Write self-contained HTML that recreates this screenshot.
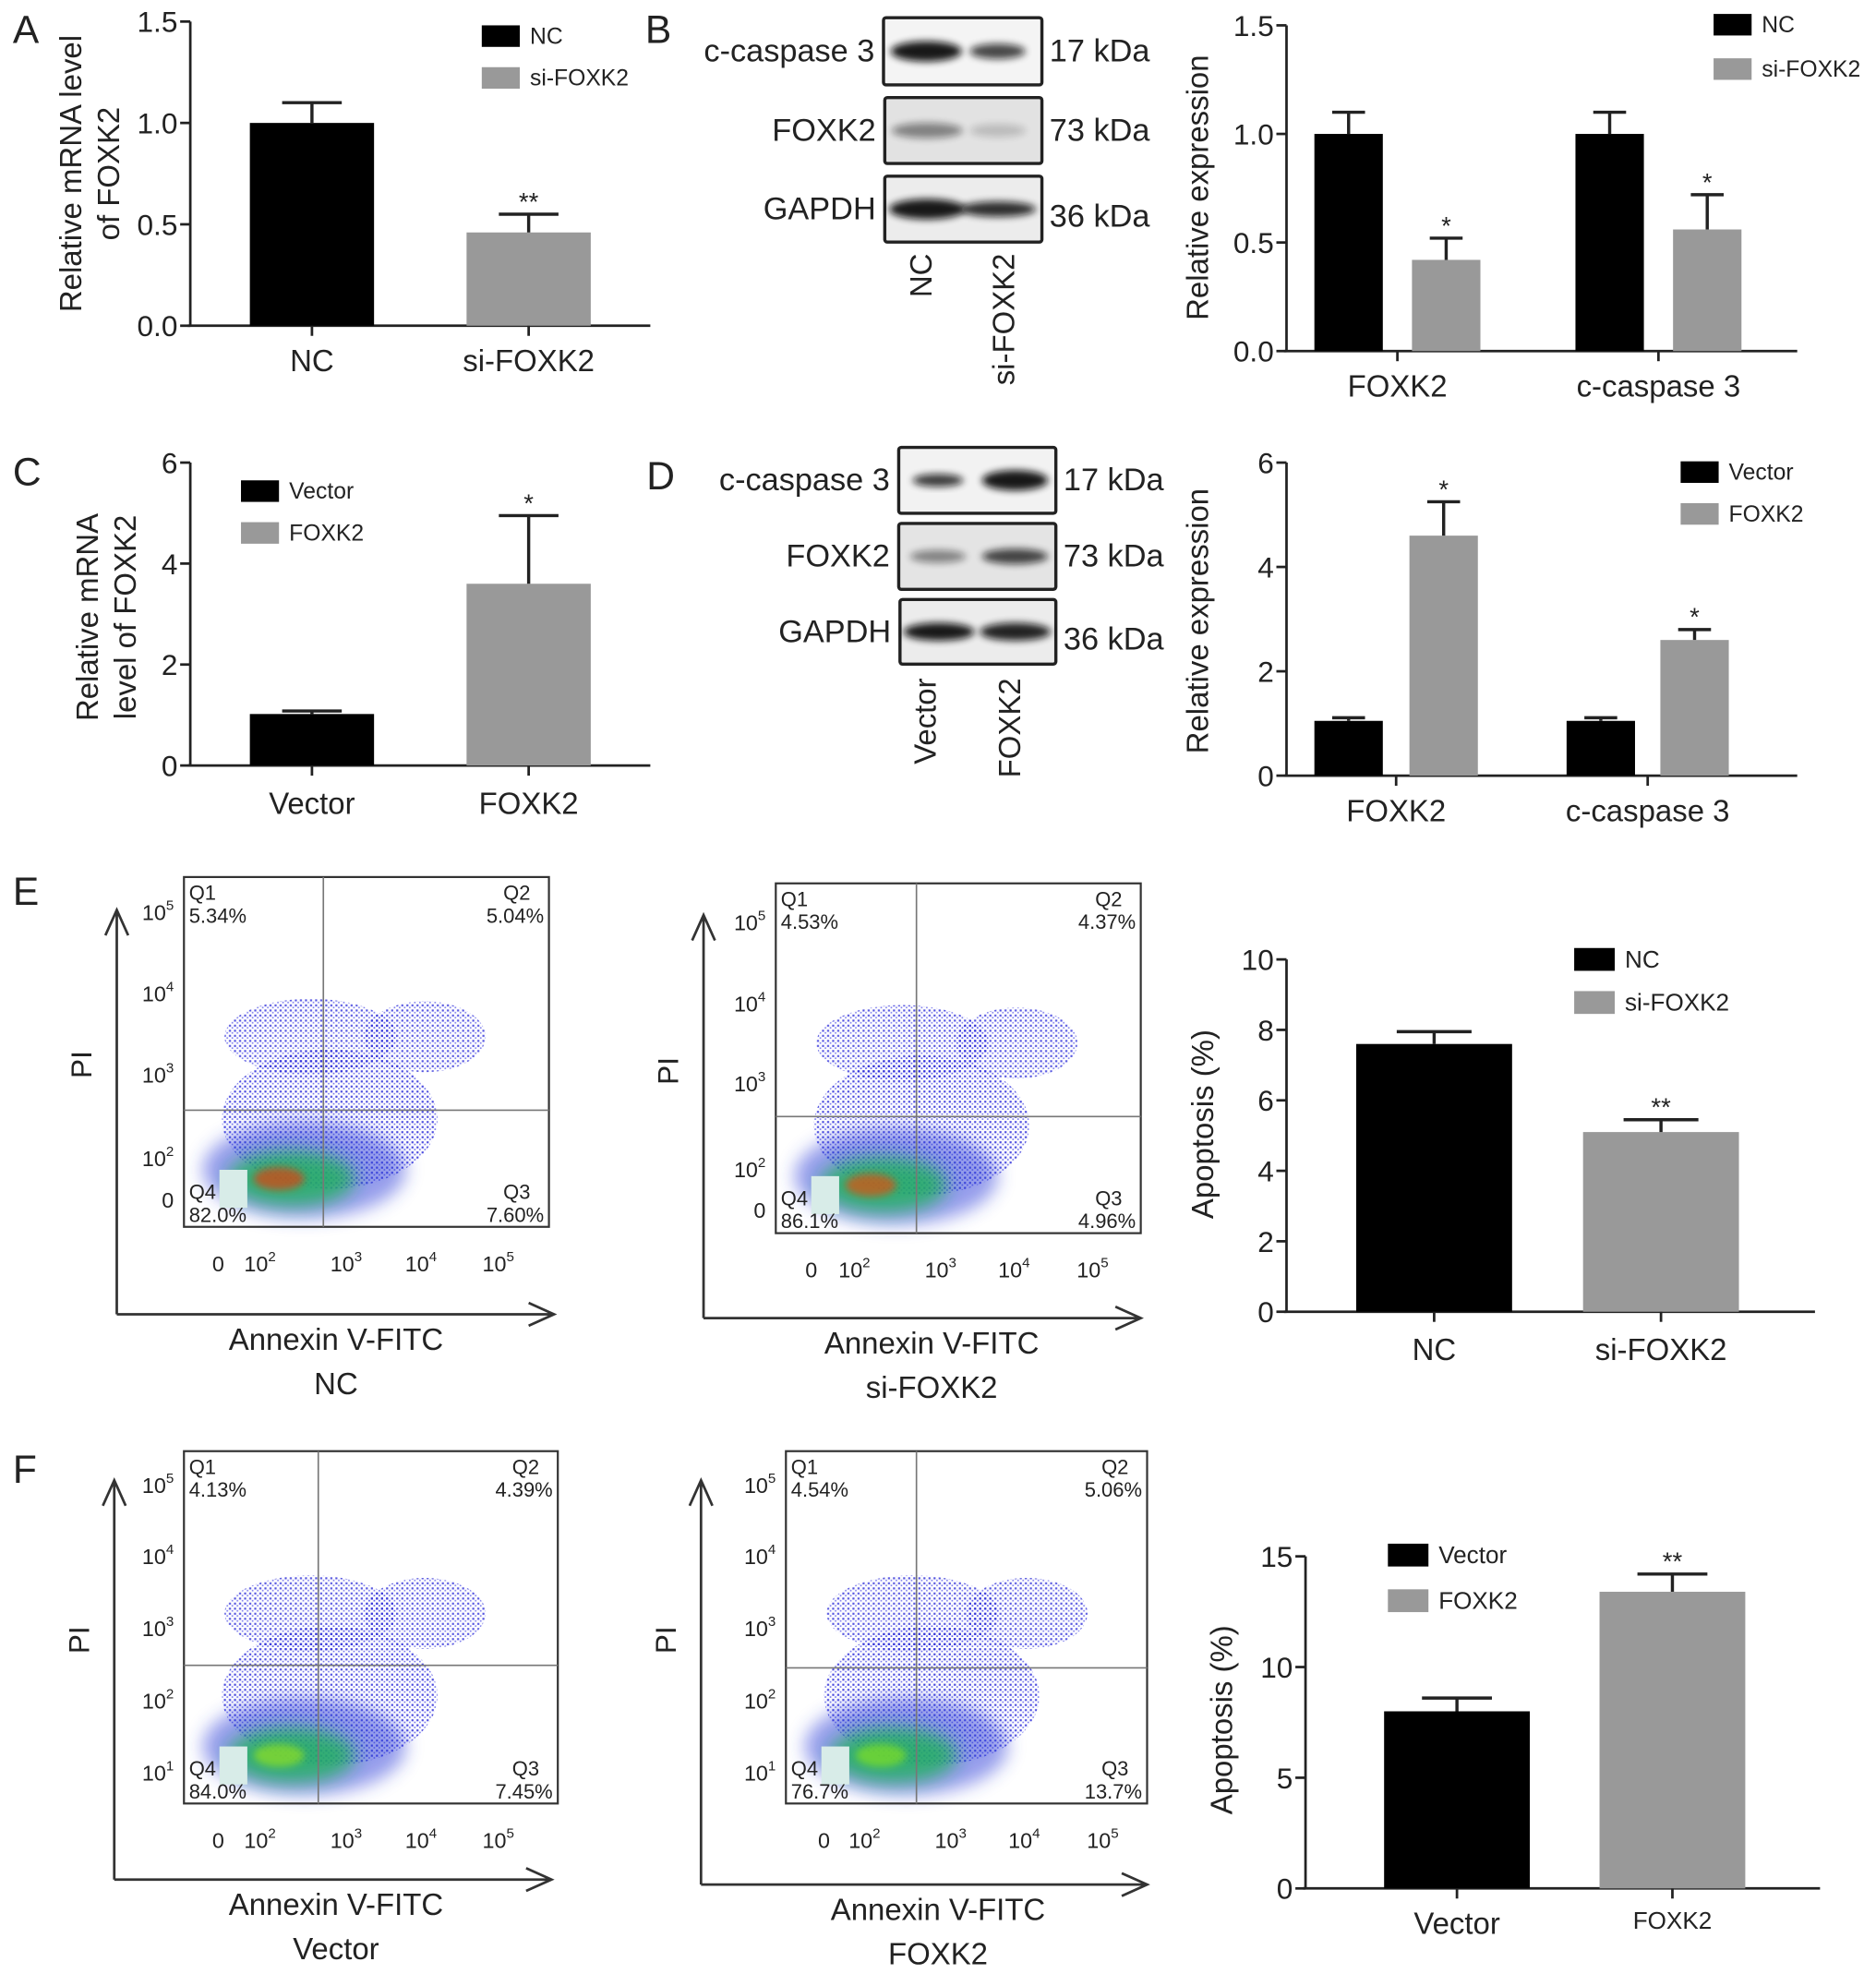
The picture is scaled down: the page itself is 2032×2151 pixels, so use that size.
<!DOCTYPE html>
<html><head><meta charset="utf-8">
<style>
html,body{margin:0;padding:0;background:#fff;}
svg{display:block;}
svg text{font-family:"Liberation Sans",Arial,sans-serif;}
</style></head>
<body>
<svg id="fig" width="2032" height="2151" viewBox="0 0 1480 1567" xmlns="http://www.w3.org/2000/svg">
<defs>
<filter id="bl2" x="-50%" y="-50%" width="200%" height="200%"><feGaussianBlur stdDeviation="3"/></filter>
<filter id="bl6" x="-50%" y="-50%" width="200%" height="200%"><feGaussianBlur stdDeviation="7"/></filter>
<filter id="bl12" x="-50%" y="-50%" width="200%" height="200%"><feGaussianBlur stdDeviation="12"/></filter>
<pattern id="dots" width="4" height="4" patternUnits="userSpaceOnUse"><rect x="0.5" y="0.5" width="1.6" height="1.6" fill="#2a2ad8"/><rect x="2.6" y="2.4" width="1.2" height="1.2" fill="#5a5ae8"/></pattern>
</defs>
<g id="root"></g>
</svg>
<script>
// ---- Bar chart data ----
const aCats = ["NC", "si-FOXK2"];
const aVals = [1.0, 0.46];
const aErrs = [0.10, 0.09];
const aTicks = [0.0, 0.5, 1.0, 1.5];

const bCats = ["FOXK2", "c-caspase 3"];
const bNC = [1.0, 1.0];
const bSi = [0.42, 0.56];
const bNCErr = [0.10, 0.10];
const bSiErr = [0.10, 0.16];
const bTicks = [0.0, 0.5, 1.0, 1.5];

const cCats = ["Vector", "FOXK2"];
const cVals = [1.02, 3.6];
const cErrs = [0.06, 1.35];
const cTicks = [0, 2, 4, 6];

const dCats = ["FOXK2", "c-caspase 3"];
const dVec = [1.05, 1.05];
const dFox = [4.6, 2.6];
const dVecErr = [0.06, 0.06];
const dFoxErr = [0.65, 0.2];
const dTicks = [0, 2, 4, 6];

const eCats = ["NC", "si-FOXK2"];
const eVals = [7.6, 5.1];
const eErrs = [0.35, 0.35];
const eTicks = [0, 2, 4, 6, 8, 10];

const fCats = ["Vector", "FOXK2"];
const fVals = [8.0, 13.4];
const fErrs = [0.6, 0.8];
const fTicks = [0, 5, 10, 15];

const NS = "http://www.w3.org/2000/svg";
const root = document.getElementById("root");
function mk(tag, attrs, parent, text) {
  const e = document.createElementNS(NS, tag);
  for (const k in attrs) e.setAttribute(k, attrs[k]);
  if (text !== undefined) e.textContent = text;
  (parent || root).appendChild(e);
  return e;
}
function txt(x, y, s, size, anchor, parent, extra) {
  const a = {x: x, y: y, "font-size": size, "text-anchor": anchor || "start", fill: "#222"};
  if (extra) for (const k in extra) a[k] = extra[k];
  return mk("text", a, parent, s);
}
function makeY(max, y0, y1) { return v => y0 - (v / max) * (y0 - y1); }

function axes(g, ax, y0, y1, xEnd, ticks, yf, fs, fmt) {
  const yl = mk("line", {x1: ax, y1: y1, x2: ax, y2: y0, stroke: "#222", "stroke-width": 2}, g);
  
  
  const xl = mk("line", {x1: ax - 2, y1: y0, x2: xEnd, y2: y0, stroke: "#222", "stroke-width": 2}, g);
  
  
  ticks.forEach(t => {
    const y = yf(t);
    mk("line", {x1: ax - 8, y1: y, x2: ax, y2: y, stroke: "#222", "stroke-width": 2}, g);
    const tl = txt(ax - 10, y + fs * 0.36, fmt(t), fs, "end", g);
    
    
  });
}
function bar(g, x, w, v, err, yf, y0, color, star, name) {
  const top = yf(v);
  const r = mk("rect", {x: x, y: top, width: w, height: y0 - top, fill: color}, g);
  
  
  const ye = yf(v + err);
  const cx = x + w / 2;
  const eb = mk("path", {d: `M${cx} ${top} V${ye} M${cx - w * 0.24} ${ye} H${cx + w * 0.24}`, stroke: "#222", "stroke-width": 2.5, fill: "none"}, g);
  
  
  if (star) {
    const s = txt(cx, ye - 3, star, 20, "middle", g);
    
    
  }
}
function legend(g, x, y1, y2, w, h, labels, fs) {
  [[y1, "#000", labels[0]], [y2, "#999", labels[1]]].forEach(([y, c, l], i) => {
    const gr = mk("g", {}, g);
    
    
    mk("rect", {x: x, y: y, width: w, height: h, fill: c}, gr);
    txt(x + w + 8, y + h * 0.85, l, fs, "start", gr);
  });
}
function ytitle(g, x, cy, lines, fs, gap) {
  lines.forEach((l, i) => {
    const t = txt(0, 0, l, fs, "middle", g, {transform: `translate(${x + i * gap},${cy}) rotate(-90)`});
    
    
  });
}
function xlabel(g, x, y, s, fs) {
  const t = txt(x, y, s, fs, "middle", g);
  
  
  return t;
}
function panelLetter(x, y, s) {
  const t = txt(x, y, s, 31, "start", root);
  
  
}
const f1 = v => v.toFixed(1), f0 = v => String(v);

// ---- Panel A ----
panelLetter(10, 34, "A");
(function () {
  const g = mk("g", {});  
  const y0 = 257, y1 = 17, yf = makeY(1.5, y0, y1);
  axes(g, 150, y0, y1, 513, aTicks, yf, 23, f1);
  const xs = [197, 368], cols = ["#000", "#999"], stars = ["", "**"];
  aVals.forEach((v, i) => {
    bar(g, xs[i], 98, v, aErrs[i], yf, y0, cols[i], stars[i], 'bar-' + aCats[i].toLowerCase());
    mk("line", {x1: xs[i] + 49, y1: y0, x2: xs[i] + 49, y2: y0 + 8, stroke: "#222", "stroke-width": 2}, g);
    xlabel(g, xs[i] + 49, 293, aCats[i], 24);
  });
  legend(g, 380, 20, 53, 30, 17, aCats, 18);
  ytitle(g, 64, 137, ["Relative mRNA level", "of FOXK2"], 24, 30);
})();

// ---- Blots ----
function blot(ox, boxes, left, kda, lanes, bands, laneY) {
  const g = mk("g", {});  
  boxes.forEach((b, i) => {
    const [x, y, w, h] = b;
    mk("rect", {x: x, y: y, width: w, height: h, fill: bands[i].bg, stroke: "#222", "stroke-width": 2.5, rx: 2}, g);
    bands[i].b.forEach(bd => {
      mk("ellipse", {cx: x + bd[0] * w, cy: y + h * 0.5, rx: bd[1], ry: bd[2], fill: "#111", opacity: bd[3], filter: "url(#bl2)"}, g);
    });
    const l = txt(x - 7, y + h * 0.5 + 8, left[i], 25, "end", g);
    
    
    const k = txt(x + w + 6, y + h * 0.5 + 8 + (i == 2 ? 6 : 0), kda[i], 25, "start", g);
    
    
  });
  lanes.forEach(ln => {
    const t = txt(0, 0, ln[0], 24, "end", g, {transform: `translate(${ln[1]},${laneY}) rotate(-90)`});
    
    
  });
}
panelLetter(509, 34, "B");
blot(0, [[697, 14, 125, 53], [698, 77, 124, 52], [698, 139, 124, 52]],
  ["c-caspase 3", "FOXK2", "GAPDH"], ["17 kDa", "73 kDa", "36 kDa"],
  [["NC", 735], ["si-FOXK2", 800]],
  [{bg: "#f4f4f4", b: [[0.27, 28, 8, 0.95], [0.72, 22, 6, 0.75]]},
   {bg: "#e2e2e2", b: [[0.27, 28, 6, 0.45], [0.72, 22, 5, 0.18]]},
   {bg: "#ececec", b: [[0.27, 30, 8, 0.95], [0.72, 30, 6, 0.85]]}], 200);
panelLetter(510, 386, "D");
blot(0, [[709, 353, 124, 52], [709, 413, 124, 52], [710, 473, 123, 51]],
  ["c-caspase 3", "FOXK2", "GAPDH"], ["17 kDa", "73 kDa", "36 kDa"],
  [["Vector", 738], ["FOXK2", 805]],
  [{bg: "#f2f2f2", b: [[0.25, 20, 5, 0.8], [0.74, 26, 8, 0.95]]},
   {bg: "#e4e4e4", b: [[0.25, 22, 5, 0.45], [0.74, 26, 6, 0.75]]},
   {bg: "#ececec", b: [[0.25, 28, 7, 0.95], [0.74, 28, 7, 0.9]]}], 535);

// ---- Grouped bar charts B, D ----
function grouped(letter, ax, y0, y1, max, xEnd, ticks, fmt, s1, s2, e1, e2, cats, xs1, xs2, stars, lab, legX, legY1, legY2, labY, titleCY) {
  const g = mk("g", {});  
  const yf = makeY(max, y0, y1);
  axes(g, ax, y0, y1, xEnd, ticks, yf, 23, fmt);
  cats.forEach((c, i) => {
    bar(g, xs1[i], 54, s1[i], e1[i], yf, y0, "#000", "", 'bar-' + lab[0].toLowerCase() + '-' + i);
    bar(g, xs2[i], 54, s2[i], e2[i], yf, y0, "#999", stars[i], 'bar-' + lab[1].toLowerCase() + '-' + i);
    const cx = (xs1[i] + xs2[i] + 54) / 2;
    mk("line", {x1: cx, y1: y0, x2: cx, y2: y0 + 8, stroke: "#222", "stroke-width": 2}, g);
    xlabel(g, cx, labY, c, 24);
  });
  legend(g, legX, legY1, legY2, 30, 17, lab, 18);
  ytitle(g, ax - 62, titleCY, ["Relative expression"], 24, 0);
}
grouped("b", 1015, 277, 20, 1.5, 1418, bTicks, f1, bNC, bSi, bNCErr, bSiErr, bCats, [1037, 1243], [1114, 1320], ["*", "*"], ["NC", "si-FOXK2"], 1352, 11, 46, 313, 148);
grouped("d", 1015, 612, 365, 6, 1418, dTicks, f0, dVec, dFox, dVecErr, dFoxErr, dCats, [1037, 1236], [1112, 1310], ["*", "*"], ["Vector", "FOXK2"], 1326, 364, 397, 648, 490);

// ---- Panel C ----
panelLetter(10, 383, "C");
(function () {
  const g = mk("g", {});  
  const y0 = 604, y1 = 365, yf = makeY(6, y0, y1);
  axes(g, 150, y0, y1, 513, cTicks, yf, 23, f0);
  const xs = [197, 368], cols = ["#000", "#999"], stars = ["", "*"];
  cVals.forEach((v, i) => {
    bar(g, xs[i], 98, v, cErrs[i], yf, y0, cols[i], stars[i], 'bar-' + cCats[i].toLowerCase());
    mk("line", {x1: xs[i] + 49, y1: y0, x2: xs[i] + 49, y2: y0 + 8, stroke: "#222", "stroke-width": 2}, g);
    xlabel(g, xs[i] + 49, 642, cCats[i], 24);
  });
  legend(g, 190, 379, 412, 30, 17, cCats, 18);
  ytitle(g, 77, 487, ["Relative mRNA", "level of FOXK2"], 24, 30);
})();

// ---- Simple bar charts E, F ----
function simple(letter, ax, y0, y1, max, xEnd, ticks, vals, errs, cats, xs, w, stars, legX, legY1, legY2, labY, titleCY, fsLab) {
  const g = mk("g", {});  
  const yf = makeY(max, y0, y1);
  axes(g, ax, y0, y1, xEnd, ticks, yf, 23, f0);
  const cols = ["#000", "#999"];
  vals.forEach((v, i) => {
    bar(g, xs[i], w, v, errs[i], yf, y0, cols[i], stars[i], 'bar-' + cats[i].toLowerCase());
    mk("line", {x1: xs[i] + w / 2, y1: y0, x2: xs[i] + w / 2, y2: y0 + 8, stroke: "#222", "stroke-width": 2}, g);
    xlabel(g, xs[i] + w / 2, labY[i], cats[i], fsLab[i]);
  });
  legend(g, legX, legY1, legY2, 32, 18, cats, 19);
  ytitle(g, ax - 58, titleCY, ["Apoptosis (%)"], 24, 0);
}
simple("e", 1015, 1035, 757, 10, 1432, eTicks, eVals, eErrs, eCats, [1070, 1249], 123, ["", "**"], 1242, 748, 782, [1073, 1073], 887, [24, 24]);
simple("f", 1030, 1490, 1228, 15, 1436, fTicks, fVals, fErrs, fCats, [1092, 1262], 115, ["", "**"], 1095, 1218, 1254, [1526, 1522], 1357, [24, 19]);

// ---- Flow cytometry plots ----
function flow(name, bx, by, bw, bh, vx, hy, arrX, arrY, arrTop, arrRight, yT, yTy, xT, xTx, xTy, q, xl1, xl2, xlx, core) {
  const g = mk("g", {});  
  const c = mk("g", {}, g);
  
  
  const cx0 = bx + 25, cy0 = by + bh - 10;
  mk("ellipse", {cx: cx0 + 75, cy: cy0 - 140, rx: 68, ry: 30, fill: "url(#dots)", opacity: 0.8}, c);
  mk("ellipse", {cx: cx0 + 165, cy: cy0 - 140, rx: 48, ry: 28, fill: "url(#dots)", opacity: 0.8}, c);
  mk("ellipse", {cx: cx0 + 90, cy: cy0 - 75, rx: 85, ry: 55, fill: "url(#dots)", opacity: 0.85}, c);
  mk("ellipse", {cx: cx0 + 70, cy: cy0 - 35, rx: 80, ry: 38, fill: "#2a3ad8", opacity: 0.5, filter: "url(#bl6)"}, c);
  mk("ellipse", {cx: cx0 + 60, cy: cy0 - 28, rx: 50, ry: 22, fill: "#20b060", opacity: 0.85, filter: "url(#bl6)"}, c);
  mk("ellipse", {cx: cx0 + 50, cy: cy0 - 28, rx: 20, ry: 9, fill: core, opacity: 0.7, filter: "url(#bl2)"}, c);
  mk("rect", {x: bx + 28, y: cy0 - 35, width: 22, height: 30, fill: "#d8ece8"}, c);
  mk("rect", {x: bx, y: by, width: bw, height: bh, fill: "none", stroke: "#333", "stroke-width": 1.6}, g);
  mk("line", {x1: vx, y1: by, x2: vx, y2: by + bh, stroke: "#777", "stroke-width": 1.2}, g);
  mk("line", {x1: bx, y1: hy, x2: bx + bw, y2: hy, stroke: "#777", "stroke-width": 1.2}, g);
  const ar = mk("path", {d: `M${arrX} ${arrY} V${arrTop} M${arrX - 9} ${arrTop + 20} L${arrX} ${arrTop} L${arrX + 9} ${arrTop + 20} M${arrX} ${arrY} H${arrRight} M${arrRight - 20} ${arrY - 9} L${arrRight} ${arrY} L${arrRight - 20} ${arrY + 9}`, stroke: "#333", "stroke-width": 2, fill: "none"}, g);
  
  
  yT.forEach((t, i) => {
    const e = txt(bx - 8, yTy[i] + 6, "", 17, "end", g);
    
    
    if (t === "0") e.textContent = "0";
    else { mk("tspan", {}, e, "10"); mk("tspan", {dy: -8, "font-size": 11}, e, t); }
  });
  xT.forEach((t, i) => {
    const e = txt(xTx[i], xTy, "", 17, "middle", g);
    
    
    if (t === "0") e.textContent = "0";
    else { mk("tspan", {}, e, "10"); mk("tspan", {dy: -8, "font-size": 11}, e, t); }
  });
  const qs = [[bx + 4, by + 18, "Q1", q[0], "start"], [bx + bw - 4, by + 18, "Q2", q[1], "end"], [bx + 4, by + bh - 22, "Q4", q[2], "start"], [bx + bw - 4, by + bh - 22, "Q3", q[3], "end"]];
  qs.forEach(([x, y, a, b, an]) => {
    const e = txt(an === "end" ? x - 32 : x, y, a, 16, "start", g);
    
    
    const p = txt(x, y + 18, b, 16, an, g);
    
    
  });
  const pi = txt(0, 0, "PI", 23, "middle", g, {transform: `translate(${arrX - 20},${(by + bh / 2) + 10}) rotate(-90)`});
  
  
  const a1 = txt(xlx, arrY + 28, xl1, 24, "middle", g);
  
  
  const a2 = txt(xlx, arrY + 63, xl2, 24, "middle", g);
  
  
}
panelLetter(10, 714, "E");
panelLetter(10, 1170, "F");
flow("flow-nc", 145, 692, 288, 276, 255, 876, 92, 1037, 718, 437,
  ["5", "4", "3", "2", "0"], [720, 784, 848, 914, 947],
  ["0", "2", "3", "4", "5"], [172, 205, 273, 332, 393], 1003,
  ["5.34%", "5.04%", "82.0%", "7.60%"], "Annexin V-FITC", "NC", 265, "#e04010");
flow("flow-si-foxk2", 612, 697, 288, 276, 723, 881, 555, 1040, 722, 900,
  ["5", "4", "3", "2", "0"], [728, 792, 855, 923, 955],
  ["0", "2", "3", "4", "5"], [640, 674, 742, 800, 862], 1008,
  ["4.53%", "4.37%", "86.1%", "4.96%"], "Annexin V-FITC", "si-FOXK2", 735, "#e05010");
flow("flow-vector", 145, 1145, 295, 278, 251, 1314, 90, 1483, 1168, 435,
  ["5", "4", "3", "2", "1"], [1172, 1228, 1285, 1342, 1399],
  ["0", "2", "3", "4", "5"], [172, 205, 273, 332, 393], 1458,
  ["4.13%", "4.39%", "84.0%", "7.45%"], "Annexin V-FITC", "Vector", 265, "#90e020");
flow("flow-foxk2", 620, 1145, 285, 278, 723, 1316, 553, 1487, 1168, 905,
  ["5", "4", "3", "2", "1"], [1172, 1228, 1285, 1342, 1399],
  ["0", "2", "3", "4", "5"], [650, 682, 750, 808, 870], 1458,
  ["4.54%", "5.06%", "76.7%", "13.7%"], "Annexin V-FITC", "FOXK2", 740, "#80e020");
</script>
</body></html>
